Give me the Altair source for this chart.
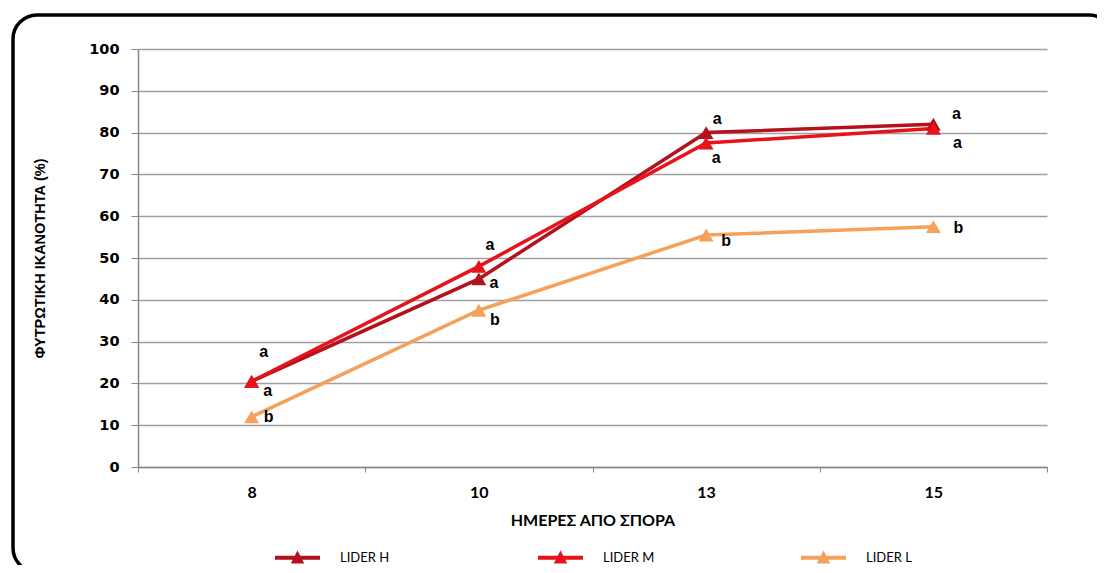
import altair as alt
import pandas as pd

# ---- data ----
days = ["8", "10", "13", "15"]
series = ["LIDER H", "LIDER M", "LIDER L"]
lider_h = [20.5, 45.0, 80.0, 82.0]
lider_m = [20.5, 48.0, 77.5, 81.0]
lider_l = [12.0, 37.5, 55.5, 57.5]
colors = ["#B3121C", "#E8121B", "#F4A15B"]

# significance letters (annotation text and where they sit, in data units)
letter_day = ["8", "8", "8", "10", "10", "10", "13", "13", "13", "15", "15", "15"]
letter_txt = ["a", "a", "b", "a", "a", "b", "a", "a", "b", "a", "a", "b"]
letter_y = [27.5, 18.2, 12.0, 53.1, 44.0, 35.2, 83.3, 73.9, 54.1, 84.4, 77.5, 57.2]
letter_dx = [12, 16, 17, 11, 15, 16, 11, 10, 20, 23, 24, 25]

rows = []
for name, vals in zip(series, [lider_h, lider_m, lider_l]):
    for d, v in zip(days, vals):
        rows.append({"series": name, "day": d, "value": v})
df = pd.DataFrame(rows)

lab = pd.DataFrame({"day": letter_day, "txt": letter_txt, "y": letter_y, "dx": letter_dx})

x_enc = alt.X(
    "day:N",
    sort=days,
    scale=alt.Scale(paddingInner=0, paddingOuter=0),
    axis=alt.Axis(
        title="ΗΜΕΡΕΣ ΑΠΟ ΣΠΟΡΑ",
        labelAngle=0,
        tickBand="extent",
        tickSize=5,
        tickColor="#888888",
        domainColor="#888888",
        domainWidth=1.5,
        labelFont="Lato",
        labelFontWeight="bold",
        labelFontSize=16,
        labelColor="#000000",
        labelPadding=12,
        titleFont="Lato",
        titleFontWeight="bold",
        titleFontSize=16,
        titleColor="#000000",
        titlePadding=12,
        grid=False,
    ),
)
y_enc = alt.Y(
    "value:Q",
    scale=alt.Scale(domain=[0, 100]),
    axis=alt.Axis(
        title="ΦΥΤΡΩΤΙΚΗ ΙΚΑΝΟΤΗΤΑ (%)",
        values=list(range(0, 101, 10)),
        tickSize=7,
        tickColor="#888888",
        domainColor="#888888",
        domainWidth=1.5,
        gridColor="#A0A0A0",
        gridWidth=1.5,
        labelFont="DejaVu Sans",
        labelFontWeight="bold",
        labelFontSize=14.5,
        labelColor="#000000",
        labelPadding=12,
        titleFont="Liberation Sans",
        titleFontWeight="bold",
        titleFontSize=14.5,
        titleColor="#000000",
        titleX=-98,
        titleY=209,
        titleAlign="center",
        titleBaseline="middle",
    ),
)

legend = alt.Legend(
    title=None,
    orient="none",
    direction="horizontal",
    legendX=137,
    legendY=486,
    symbolType="M-1,-0.09H1V0.09H-1Z M-0.3,0.26L0,-0.32L0.3,0.26Z",
    symbolSize=2025,
    symbolStrokeWidth=0,
    symbolOpacity=1,
    labelFont="Lato",
    labelFontSize=13,
    labelColor="#000000",
    labelOffset=20,
    columnPadding=146,
    gridAlign="all",
)
color_enc = alt.Color(
    "series:N",
    scale=alt.Scale(domain=series, range=colors),
    sort=series,
    legend=legend,
)

base = alt.Chart(df)
lines = base.mark_line(strokeWidth=3.5).encode(x=x_enc, y=y_enc, color=color_enc, detail="series:N")
points = base.mark_point(shape="triangle-up", filled=True, size=220, opacity=1).encode(
    x=x_enc, y=y_enc, color=color_enc
)

letter_layers = []
for off in sorted(set(letter_dx)):
    sub = lab[lab["dx"] == off]
    letter_layers.append(
        alt.Chart(sub).mark_text(
            font="Liberation Sans", fontWeight="bold", fontSize=16, color="#000000",
            align="center", baseline="middle", dx=off
        ).encode(x=alt.X("day:N", sort=days), y=alt.Y("y:Q"), text="txt:N")
    )

frame = alt.Chart(pd.DataFrame({"k": [0]})).mark_rect(
    fill="white", fillOpacity=0, stroke="#000000", strokeWidth=3.5, cornerRadius=24, clip=False
).encode(
    x=alt.value(-125), x2=alt.value(975), y=alt.value(-34), y2=alt.value(523)
)

chart = alt.layer(lines, points, *letter_layers, frame).properties(
    width=909,
    height=418,
    autosize=alt.AutoSizeParams(type="none"),
    padding={"left": 130, "top": 41, "right": 50, "bottom": 98},
    background="white",
).configure_view(stroke=None)

chart.save("out.html", embed_options={"renderer": "svg", "actions": False})
